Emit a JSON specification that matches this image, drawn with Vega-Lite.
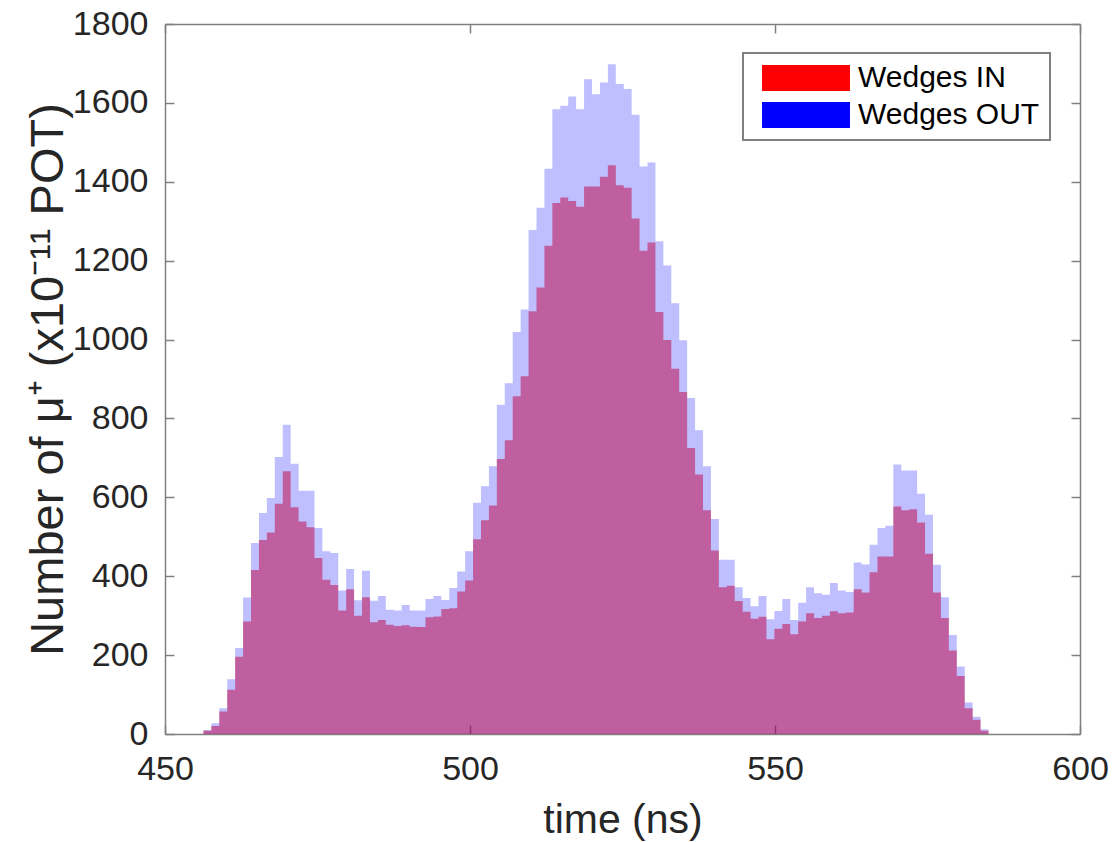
{
  "$schema": "https://vega.github.io/schema/vega-lite/v6.json",
  "width": 915,
  "height": 710,
  "autosize": {"type": "none"},
  "padding": {"left": 165, "top": 24, "right": 34, "bottom": 108},
  "background": "white",
  "config": {
    "view": {"stroke": null},
    "font": "Liberation Sans",
    "axis": {
      "grid": false,
      "domainColor": "#808080",
      "tickColor": "#808080",
      "domainWidth": 1.5,
      "tickWidth": 1.5,
      "labelColor": "#262626",
      "titleColor": "#262626",
      "labelFont": "Liberation Sans",
      "titleFont": "Liberation Sans",
      "titleFontWeight": "normal",
      "labelFlush": false,
      "labelOverlap": false
    }
  },
  "data": {
    "values": [
      {"start": 456.3, "end": 457.6, "Wedges IN": 8, "Wedges OUT": 10},
      {"start": 457.6, "end": 458.9, "Wedges IN": 20, "Wedges OUT": 27},
      {"start": 458.9, "end": 460.2, "Wedges IN": 57, "Wedges OUT": 65},
      {"start": 460.2, "end": 461.5, "Wedges IN": 112, "Wedges OUT": 139},
      {"start": 461.5, "end": 462.8, "Wedges IN": 196, "Wedges OUT": 218},
      {"start": 462.8, "end": 464.1, "Wedges IN": 285, "Wedges OUT": 346},
      {"start": 464.1, "end": 465.4, "Wedges IN": 416, "Wedges OUT": 484},
      {"start": 465.4, "end": 466.7, "Wedges IN": 492, "Wedges OUT": 560},
      {"start": 466.7, "end": 468.0, "Wedges IN": 511, "Wedges OUT": 598},
      {"start": 468.0, "end": 469.3, "Wedges IN": 584, "Wedges OUT": 702},
      {"start": 469.3, "end": 470.6, "Wedges IN": 666, "Wedges OUT": 784},
      {"start": 470.6, "end": 471.9, "Wedges IN": 575, "Wedges OUT": 685},
      {"start": 471.9, "end": 473.2, "Wedges IN": 539, "Wedges OUT": 617},
      {"start": 473.2, "end": 474.5, "Wedges IN": 524, "Wedges OUT": 617},
      {"start": 474.5, "end": 475.8, "Wedges IN": 446, "Wedges OUT": 522},
      {"start": 475.8, "end": 477.1, "Wedges IN": 391, "Wedges OUT": 463},
      {"start": 477.1, "end": 478.4, "Wedges IN": 378, "Wedges OUT": 459},
      {"start": 478.4, "end": 479.7, "Wedges IN": 313, "Wedges OUT": 364},
      {"start": 479.7, "end": 481.0, "Wedges IN": 367, "Wedges OUT": 418},
      {"start": 481.0, "end": 482.3, "Wedges IN": 300, "Wedges OUT": 339},
      {"start": 482.3, "end": 483.6, "Wedges IN": 347, "Wedges OUT": 414},
      {"start": 483.6, "end": 484.9, "Wedges IN": 283, "Wedges OUT": 338},
      {"start": 484.9, "end": 486.2, "Wedges IN": 289, "Wedges OUT": 350},
      {"start": 486.2, "end": 487.5, "Wedges IN": 277, "Wedges OUT": 315},
      {"start": 487.5, "end": 488.8, "Wedges IN": 274, "Wedges OUT": 313},
      {"start": 488.8, "end": 490.1, "Wedges IN": 276, "Wedges OUT": 327},
      {"start": 490.1, "end": 491.4, "Wedges IN": 272, "Wedges OUT": 313},
      {"start": 491.4, "end": 492.7, "Wedges IN": 271, "Wedges OUT": 313},
      {"start": 492.7, "end": 494.0, "Wedges IN": 296, "Wedges OUT": 342},
      {"start": 494.0, "end": 495.3, "Wedges IN": 298, "Wedges OUT": 350},
      {"start": 495.3, "end": 496.6, "Wedges IN": 317, "Wedges OUT": 340},
      {"start": 496.6, "end": 497.9, "Wedges IN": 319, "Wedges OUT": 370},
      {"start": 497.9, "end": 499.2, "Wedges IN": 361, "Wedges OUT": 412},
      {"start": 499.2, "end": 500.5, "Wedges IN": 389, "Wedges OUT": 463},
      {"start": 500.5, "end": 501.8, "Wedges IN": 494, "Wedges OUT": 586},
      {"start": 501.8, "end": 503.1, "Wedges IN": 542, "Wedges OUT": 628},
      {"start": 503.1, "end": 504.4, "Wedges IN": 579, "Wedges OUT": 679},
      {"start": 504.4, "end": 505.7, "Wedges IN": 697, "Wedges OUT": 835},
      {"start": 505.7, "end": 507.0, "Wedges IN": 745, "Wedges OUT": 889},
      {"start": 507.0, "end": 508.3, "Wedges IN": 856, "Wedges OUT": 1019},
      {"start": 508.3, "end": 509.6, "Wedges IN": 907, "Wedges OUT": 1076},
      {"start": 509.6, "end": 510.9, "Wedges IN": 1072, "Wedges OUT": 1278},
      {"start": 510.9, "end": 512.2, "Wedges IN": 1132, "Wedges OUT": 1334},
      {"start": 512.2, "end": 513.5, "Wedges IN": 1238, "Wedges OUT": 1433},
      {"start": 513.5, "end": 514.8, "Wedges IN": 1346, "Wedges OUT": 1584},
      {"start": 514.8, "end": 516.1, "Wedges IN": 1360, "Wedges OUT": 1593},
      {"start": 516.1, "end": 517.4, "Wedges IN": 1351, "Wedges OUT": 1616},
      {"start": 517.4, "end": 518.7, "Wedges IN": 1337, "Wedges OUT": 1584},
      {"start": 518.7, "end": 520.0, "Wedges IN": 1388, "Wedges OUT": 1660},
      {"start": 520.0, "end": 521.3, "Wedges IN": 1388, "Wedges OUT": 1622},
      {"start": 521.3, "end": 522.6, "Wedges IN": 1413, "Wedges OUT": 1652},
      {"start": 522.6, "end": 523.9, "Wedges IN": 1442, "Wedges OUT": 1698},
      {"start": 523.9, "end": 525.2, "Wedges IN": 1391, "Wedges OUT": 1648},
      {"start": 525.2, "end": 526.5, "Wedges IN": 1385, "Wedges OUT": 1635},
      {"start": 526.5, "end": 527.8, "Wedges IN": 1307, "Wedges OUT": 1570},
      {"start": 527.8, "end": 529.1, "Wedges IN": 1225, "Wedges OUT": 1439},
      {"start": 529.1, "end": 530.4, "Wedges IN": 1246, "Wedges OUT": 1449},
      {"start": 530.4, "end": 531.7, "Wedges IN": 1070, "Wedges OUT": 1249},
      {"start": 531.7, "end": 533.0, "Wedges IN": 999, "Wedges OUT": 1188},
      {"start": 533.0, "end": 534.3, "Wedges IN": 926, "Wedges OUT": 1092},
      {"start": 534.3, "end": 535.6, "Wedges IN": 867, "Wedges OUT": 998},
      {"start": 535.6, "end": 536.9, "Wedges IN": 725, "Wedges OUT": 852},
      {"start": 536.9, "end": 538.2, "Wedges IN": 658, "Wedges OUT": 770},
      {"start": 538.2, "end": 539.5, "Wedges IN": 567, "Wedges OUT": 679},
      {"start": 539.5, "end": 540.8, "Wedges IN": 465, "Wedges OUT": 545},
      {"start": 540.8, "end": 542.1, "Wedges IN": 372, "Wedges OUT": 442},
      {"start": 542.1, "end": 543.4, "Wedges IN": 376, "Wedges OUT": 442},
      {"start": 543.4, "end": 544.7, "Wedges IN": 337, "Wedges OUT": 372},
      {"start": 544.7, "end": 546.0, "Wedges IN": 310, "Wedges OUT": 345},
      {"start": 546.0, "end": 547.3, "Wedges IN": 292, "Wedges OUT": 324},
      {"start": 547.3, "end": 548.6, "Wedges IN": 297, "Wedges OUT": 350},
      {"start": 548.6, "end": 549.9, "Wedges IN": 240, "Wedges OUT": 291},
      {"start": 549.9, "end": 551.2, "Wedges IN": 267, "Wedges OUT": 312},
      {"start": 551.2, "end": 552.5, "Wedges IN": 279, "Wedges OUT": 342},
      {"start": 552.5, "end": 553.8, "Wedges IN": 253, "Wedges OUT": 289},
      {"start": 553.8, "end": 555.1, "Wedges IN": 285, "Wedges OUT": 333},
      {"start": 555.1, "end": 556.4, "Wedges IN": 306, "Wedges OUT": 372},
      {"start": 556.4, "end": 557.7, "Wedges IN": 294, "Wedges OUT": 357},
      {"start": 557.7, "end": 559.0, "Wedges IN": 300, "Wedges OUT": 353},
      {"start": 559.0, "end": 560.3, "Wedges IN": 311, "Wedges OUT": 383},
      {"start": 560.3, "end": 561.6, "Wedges IN": 306, "Wedges OUT": 364},
      {"start": 561.6, "end": 562.9, "Wedges IN": 308, "Wedges OUT": 360},
      {"start": 562.9, "end": 564.2, "Wedges IN": 367, "Wedges OUT": 435},
      {"start": 564.2, "end": 565.5, "Wedges IN": 359, "Wedges OUT": 430},
      {"start": 565.5, "end": 566.8, "Wedges IN": 410, "Wedges OUT": 480},
      {"start": 566.8, "end": 568.1, "Wedges IN": 450, "Wedges OUT": 522},
      {"start": 568.1, "end": 569.4, "Wedges IN": 450, "Wedges OUT": 528},
      {"start": 569.4, "end": 570.7, "Wedges IN": 577, "Wedges OUT": 683},
      {"start": 570.7, "end": 572.0, "Wedges IN": 567, "Wedges OUT": 668},
      {"start": 572.0, "end": 573.3, "Wedges IN": 570, "Wedges OUT": 668},
      {"start": 573.3, "end": 574.6, "Wedges IN": 536, "Wedges OUT": 609},
      {"start": 574.6, "end": 575.9, "Wedges IN": 457, "Wedges OUT": 556},
      {"start": 575.9, "end": 577.2, "Wedges IN": 359, "Wedges OUT": 429},
      {"start": 577.2, "end": 578.5, "Wedges IN": 294, "Wedges OUT": 347},
      {"start": 578.5, "end": 579.8, "Wedges IN": 212, "Wedges OUT": 251},
      {"start": 579.8, "end": 581.1, "Wedges IN": 147, "Wedges OUT": 171},
      {"start": 581.1, "end": 582.4, "Wedges IN": 65, "Wedges OUT": 80},
      {"start": 582.4, "end": 583.7, "Wedges IN": 36, "Wedges OUT": 44},
      {"start": 583.7, "end": 585.0, "Wedges IN": 8, "Wedges OUT": 12}
    ]
  },
  "transform": [
    {"fold": ["Wedges IN", "Wedges OUT"], "as": ["series", "count"]},
    {"fold": ["start", "end"], "as": ["edge", "t"]}
  ],
  "layer": [
    {
      "transform": [{"filter": "datum.series === 'Wedges IN'"}],
      "mark": {"type": "area", "opacity": 0.5, "interpolate": "linear"},
      "encoding": {
        "x": {
          "field": "t", "type": "quantitative",
          "scale": {"domain": [450, 600], "nice": false, "zero": false},
          "axis": {
            "orient": "top", "offset": -710, "values": [450, 500, 550, 600],
            "tickSize": 9, "labelPadding": -27.5, "labelBaseline": "top", "labelFontSize": 34,
            "title": "time (ns)", "titleFontSize": 41,
            "titleY": 98, "titleBaseline": "alphabetic"
          }
        },
        "y": {
          "field": "count", "type": "quantitative", "stack": null,
          "scale": {"domain": [0, 1800], "nice": false},
          "axis": {
            "orient": "right", "offset": -915, "values": [0, 200, 400, 600, 800, 1000, 1200, 1400, 1600, 1800],
            "format": "d",
            "tickSize": 9, "labelPadding": -26, "labelAlign": "right", "labelBaseline": "middle", "labelFontSize": 34,
            "title": "Number of μ⁺ (x10⁻¹¹ POT)", "titleFontSize": 47,
            "titleX": -103, "titleY": 355, "titleAngle": -90,
            "titleBaseline": "alphabetic", "titleAlign": "center"
          }
        },
        "y2": {"datum": 0},
        "color": {
          "field": "series", "type": "nominal",
          "scale": {"domain": ["Wedges IN", "Wedges OUT"], "range": ["#ff0000", "#0000ff"]},
          "legend": {
            "orient": "none", "legendX": 578, "legendY": 29, "title": null,
            "symbolType": "M-2.933,-0.867H2.933V0.867H-2.933Z", "symbolSize": 900,
            "symbolOpacity": 1, "symbolStrokeWidth": 0,
            "labelFontSize": 30, "labelColor": "#000000", "labelFont": "Liberation Sans",
            "padding": 10, "symbolOffset": 38, "labelOffset": 37, "rowPadding": 7,
            "strokeColor": "#808080", "fillColor": "#ffffff", "labelLimit": 400,
            "encode": {
              "legend": {"update": {"strokeWidth": {"value": 2}}},
              "symbols": {"update": {"opacity": {"value": 1}}}
            }
          }
        }
      }
    },
    {
      "transform": [{"filter": "datum.series === 'Wedges OUT'"}],
      "mark": {"type": "area", "opacity": 0.25, "interpolate": "linear"},
      "encoding": {
        "x": {
          "field": "t", "type": "quantitative",
          "scale": {"domain": [450, 600], "nice": false, "zero": false},
          "axis": {"orient": "bottom", "offset": -710, "values": [450, 500, 550, 600], "tickSize": 9, "labels": false, "title": null}
        },
        "y": {
          "field": "count", "type": "quantitative", "stack": null,
          "scale": {"domain": [0, 1800], "nice": false},
          "axis": {"orient": "left", "offset": -915, "values": [0, 200, 400, 600, 800, 1000, 1200, 1400, 1600, 1800], "tickSize": 9, "labels": false, "title": null}
        },
        "y2": {"datum": 0},
        "color": {
          "field": "series", "type": "nominal",
          "scale": {"domain": ["Wedges IN", "Wedges OUT"], "range": ["#ff0000", "#0000ff"]}
        }
      }
    }
  ]
}
